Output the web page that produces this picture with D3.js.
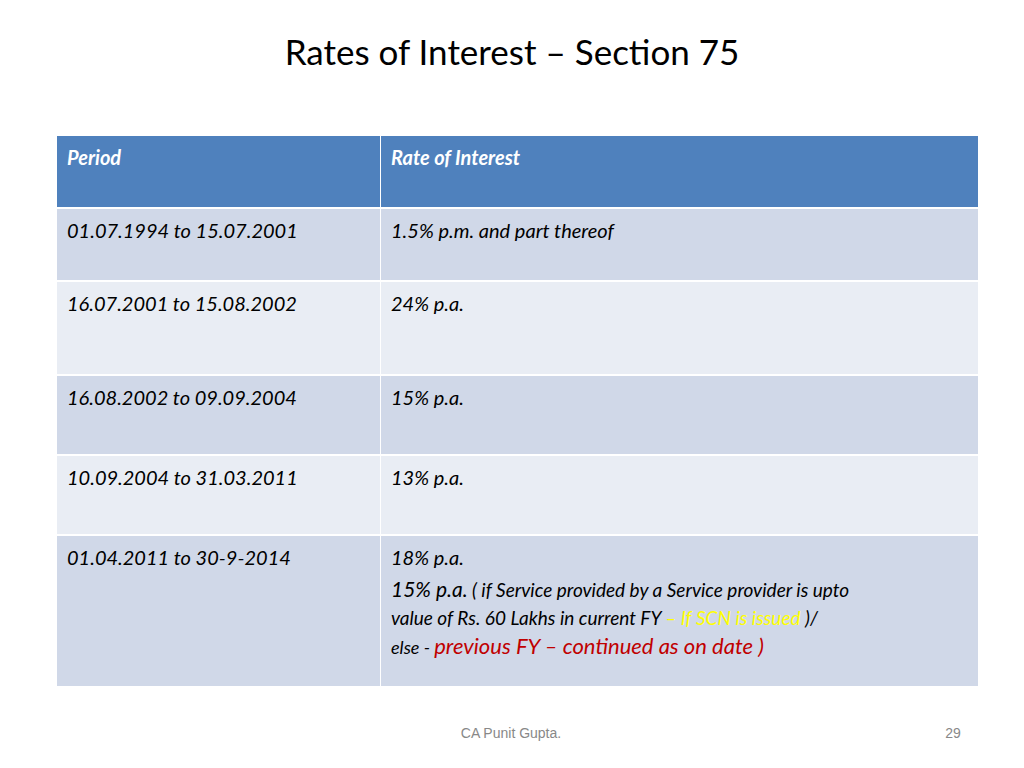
<!DOCTYPE html>
<html><head><meta charset="utf-8">
<script src="https://cdn.jsdelivr.net/npm/d3@7"></script>
<style>body{margin:0;background:#fff}svg{display:block}</style>
</head><body><svg id="c" width="1024" height="768"></svg>
<script>
const title = "Rates of Interest – Section 75";
const headers = ["Period", "Rate of Interest"];
const periods = ["01.07.1994 to 15.07.2001","16.07.2001 to 15.08.2002","16.08.2002 to 09.09.2004","10.09.2004 to 31.03.2011","01.04.2011  to 30-9-2014"];
const rates = ["1.5% p.m. and part thereof","24% p.a.","15% p.a.","13% p.a.","18% p.a."];
const footer = "CA Punit Gupta.";
const pageNo = "29";

const rowEdges = [136,209,282,376,456,536,688];
const colEdges = [57,381,978];
const svg = d3.select("#c");
const F = "Lato, 'Open Sans', sans-serif";

svg.append("text").attr("x",512).attr("y",65).attr("text-anchor","middle")
  .attr("font-family",F).attr("font-size",35).attr("fill","#000").text(title);

const rows = [headers].concat(periods.map((p,i)=>[p,rates[i]]));
rows.forEach((r,i)=>{
  const y0=rowEdges[i], y1=rowEdges[i+1];
  const fill = i===0?"#4F81BD":(i%2===1?"#D0D8E8":"#E9EDF4");
  r.forEach((t,j)=>{
    svg.append("rect").attr("x",colEdges[j]).attr("y",y0).attr("width",colEdges[j+1]-colEdges[j]-(j===0?1:0))
      .attr("height",y1-y0-2).attr("fill",fill);
    svg.append("text").attr("x",colEdges[j]+10).attr("y",y0+29)
      .attr("font-family",F).attr("font-style","italic").attr("font-weight",i===0?"bold":"normal")
      .attr("font-size",20).attr("fill",i===0?"#fff":"#000").text(t);
  });
});

// extra lines in last cell
const x=391;
const t2=svg.append("text").attr("x",x).attr("y",597).attr("font-family",F).attr("font-style","italic").attr("font-size",19);
t2.append("tspan").attr("font-size",21).text("15% p.a.");
t2.append("tspan").text(" ( if  Service provided  by a  Service provider  is  upto");
const t3=svg.append("text").attr("x",x).attr("y",625).attr("font-family",F).attr("font-style","italic").attr("font-size",19);
t3.append("tspan").text("value of  Rs. 60 Lakhs in  current FY ");
t3.append("tspan").attr("fill","#FFFF00").text("– If SCN is issued ");
t3.append("tspan").text(")/");
const t4=svg.append("text").attr("x",x).attr("y",654).attr("font-family",F).attr("font-style","italic").attr("font-size",18);
t4.append("tspan").text("else  - ");
t4.append("tspan").attr("fill","#C00000").attr("font-size",22).text("previous FY – continued  as on date )");

svg.append("text").attr("x",511).attr("y",738).attr("text-anchor","middle").attr("font-family","'Liberation Sans',Arial")
  .attr("font-size",14).attr("fill","#888").text(footer);
svg.append("text").attr("x",953).attr("y",738).attr("text-anchor","middle").attr("font-family","'Liberation Sans',Arial")
  .attr("font-size",14).attr("fill","#888").text(pageNo);
</script></body></html>
